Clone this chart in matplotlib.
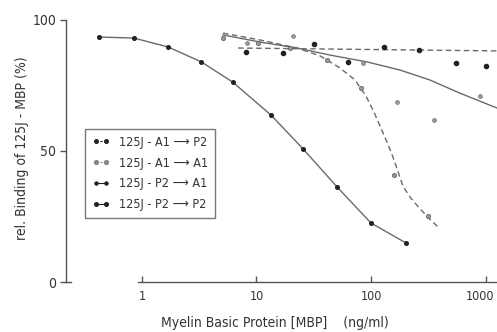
import matplotlib
matplotlib.use("Agg")
import matplotlib.pyplot as plt
from matplotlib.lines import Line2D
from matplotlib import font_manager
from matplotlib.transforms import ScaledTranslation

# ---- data: concentration of competing MBP (ng/ml) vs relative binding (%) ----
a1p2_conc = [0.42, 0.85, 1.69, 3.3, 6.2, 13.4, 25.5, 50.5, 100, 202]
a1p2_bind = [93.5, 93.1, 89.7, 84.0, 76.3, 63.7, 50.8, 36.3, 22.5, 14.9]

a1a1_conc = [5.1, 10.3, 19.6, 41.3, 81.9, 159, 313]
a1a1_bind = [93.1, 91.2, 89.3, 84.7, 74.0, 40.8, 25.2]
a1a1_fit_conc = [5.1, 10.7, 22.6, 35.9, 53.6, 72.5, 90.4, 106, 122, 138, 153,
                 168, 190, 219, 267, 326, 393]
a1a1_fit_bind = [95.0, 92.4, 89.3, 86.3, 81.7, 77.1, 71.0, 64.9, 58.8, 53.4, 48.5,
                 43.5, 36.6, 32.4, 28.0, 24.0, 20.6]

p2a1_conc = [8.3, 20.8, 85.0, 168, 355, 900]
p2a1_bind = [91.2, 93.9, 83.6, 68.7, 61.8, 71.0]
p2a1_fit_conc = [5.1, 10.7, 22.6, 43.9, 92.3, 179, 327, 596, 1260]
p2a1_fit_bind = [94.3, 91.6, 89.3, 86.6, 84.0, 80.9, 77.1, 72.1, 66.4]

p2p2_conc = [8.1, 17.0, 31.7, 63, 130, 262, 551, 1010]
p2p2_bind = [87.8, 87.4, 90.8, 84.0, 89.7, 88.5, 83.6, 82.4]
p2p2_fit_conc = [6.9, 1260]
p2p2_fit_bind = [89.3, 88.2]

x_ticks = [1, 10, 100, 1000]
x_tick_labels = ["1", "10", "100", "1000"]
y_ticks = [0, 50, 100]
y_tick_labels = ["0", "50", "100"]

legend_labels = [
    "125J - A1 \u27f6 P2",
    "125J - A1 \u27f6 A1",
    "125J - P2 \u27f6 A1",
    "125J - P2 \u27f6 P2",
]

# ---- fonts: prefer a narrow face ----
installed = {f.name for f in font_manager.fontManager.ttflist}
condensed_dejavu = any(
    f.name == "DejaVu Sans" and "ondensed" in f.fname for f in font_manager.fontManager.ttflist
)
if "Liberation Sans Narrow" in installed:
    main_font, stretch = "Liberation Sans Narrow", "normal"
elif condensed_dejavu:
    main_font, stretch = "DejaVu Sans", "condensed"
elif "Roboto Condensed" in installed:
    main_font, stretch = "Roboto Condensed", "normal"
else:
    main_font, stretch = "DejaVu Sans", "condensed"
plt.rcParams["font.family"] = [main_font, "DejaVu Sans"]
plt.rcParams["font.stretch"] = stretch

TEXT = "#333333"
AXIS = "#555555"
LINE = "#6a6a6a"
DARK = "#222222"
GREY = "#888888"

fig = plt.figure(figsize=(4.97, 3.32), dpi=100)
ax = fig.add_axes([0.1328, 0.1506, 0.8672, 0.7892])
ax.set_xscale("log")
ax.set_xlim(0.217, 1260)
ax.set_ylim(0, 100)

# fitted curves
ax.plot(a1p2_conc, a1p2_bind, color=LINE, lw=1.0, zorder=2)
ax.plot(a1a1_fit_conc, a1a1_fit_bind, color=LINE, lw=1.0, ls=(0, (4, 2.5)), zorder=2)
ax.plot(p2a1_fit_conc, p2a1_fit_bind, color=LINE, lw=1.0, zorder=2)
ax.plot(p2p2_fit_conc, p2p2_fit_bind, color=LINE, lw=1.0, ls=(0, (4, 2.5)), zorder=2)

# measured points
ax.plot(a1p2_conc, a1p2_bind, ls="none", marker="o", ms=2.6, color=DARK, zorder=3)
ax.plot(a1a1_conc, a1a1_bind, ls="none", marker="o", ms=3.0, mfc="#9a9a9a",
        mec="#666666", mew=0.6, zorder=3)
ax.plot(p2a1_conc, p2a1_bind, ls="none", marker="o", ms=2.8, mfc="#9a9a9a",
        mec="#777777", mew=0.5, zorder=3)
ax.plot(p2p2_conc, p2p2_bind, ls="none", marker="o", ms=3.0, color=DARK, zorder=3)

# axes styling
for side in ("top", "right"):
    ax.spines[side].set_visible(False)
ax.spines["left"].set_bounds(0, 100)
ax.spines["bottom"].set_bounds(0.93, 1260)
for side in ("left", "bottom"):
    ax.spines[side].set_color(AXIS)
    ax.spines[side].set_linewidth(1.0)
ax.plot([0, 0.012], [0, 0], transform=ax.transAxes, color=AXIS, lw=1.0, clip_on=False)

ax.set_yticks(y_ticks)
ax.set_yticklabels(y_tick_labels)
ax.set_xticks(x_ticks)
ax.set_xticklabels(x_tick_labels)
ax.minorticks_off()
ax.tick_params(axis="y", direction="out", length=4, width=1.0, color=AXIS,
               labelsize=10, labelcolor=TEXT, pad=3)
ax.tick_params(axis="x", direction="in", length=4, width=1.0, color=AXIS,
               labelsize=9, labelcolor=TEXT, pad=6)
# nudge the last tick label inward so it stays on the canvas
last = ax.get_xticklabels()[-1]
last.set_transform(last.get_transform() + ScaledTranslation(-4 / 72, 0, fig.dpi_scale_trans))

fig.text(0.553, 0.027, "Myelin Basic Protein [MBP]    (ng/ml)", ha="center",
         va="center", fontsize=10, color=TEXT)
fig.text(0.045, 0.555, "rel. Binding of 125J - MBP (%)", rotation=90, ha="center",
         va="center", fontsize=10, color=TEXT)

# legend
handles = [
    Line2D([], [], color=DARK, ls=(0, (2, 1.5)), lw=0.8, marker="o", ms=2.6),
    Line2D([], [], color=GREY, ls=(0, (2, 1.5)), lw=0.8, marker="o", ms=2.8),
    Line2D([], [], color=DARK, ls="-", lw=0.8, marker="o", ms=2.2),
    Line2D([], [], color=DARK, ls="-", lw=0.8, marker="o", ms=2.6),
]
leg = ax.legend(handles, legend_labels, loc="upper left",
                bbox_to_anchor=(85 / 497, 1 - 129 / 332), bbox_transform=fig.transFigure,
                borderaxespad=0, numpoints=2, handlelength=1.4, handletextpad=0.8,
                fontsize=9, frameon=True, fancybox=False, labelspacing=0.62,
                borderpad=0.55)
leg.get_frame().set_edgecolor(AXIS)
leg.get_frame().set_linewidth(1.0)
for t in leg.get_texts():
    t.set_color(TEXT)

fig.savefig("out.png", dpi=100)
